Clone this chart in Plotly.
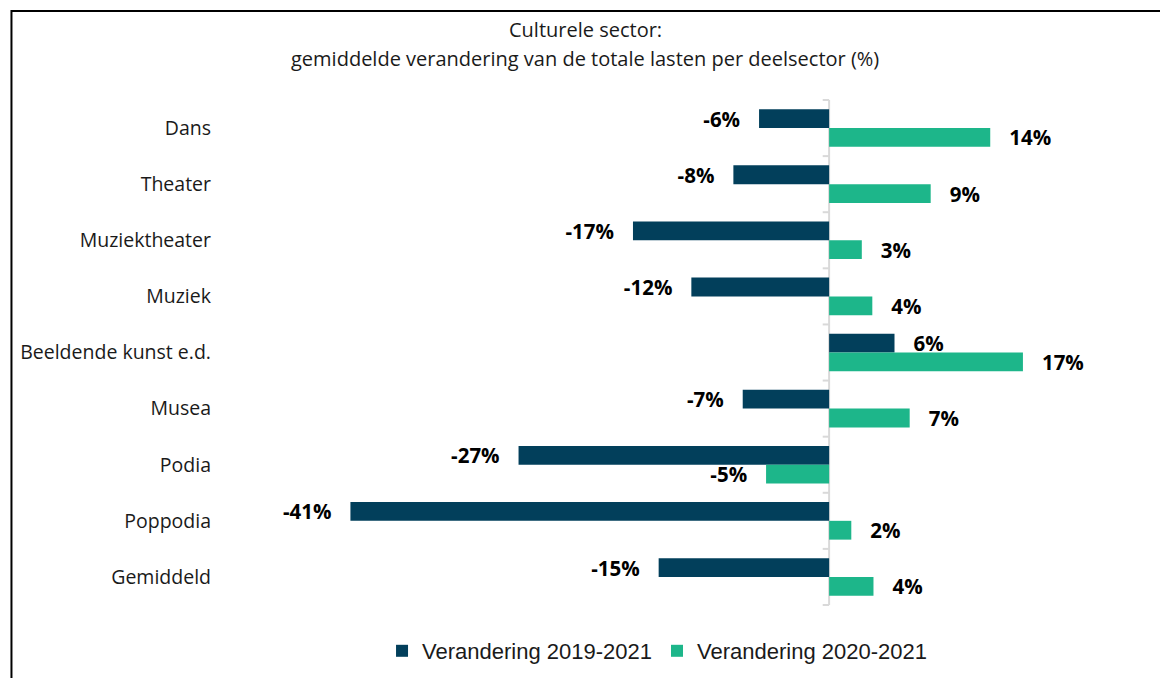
"""
Culturele sector: gemiddelde verandering van de totale lasten per deelsector
"""

import plotly.graph_objects as go

# categorieën en waarden (%)
categories = ["Dans", "Theater", "Muziektheater", "Muziek", "Beeldende kunst e.d.",
              "Musea", "Podia", "Poppodia", "Gemiddeld"]
change_2019_2021 = [-6.0, -8.2, -16.8, -11.8, 5.6, -7.4, -26.6, -41.0, -14.6]
change_2020_2021 = [13.8, 8.7, 2.8, 3.7, 16.6, 6.9, -5.4, 1.9, 3.8]
series_names = ["Verandering 2019-2021", "Verandering 2020-2021"]
title_lines = ["Culturele sector:",
               "gemiddelde verandering van de totale lasten per deelsector (%)"]

DARK = "#023F5B"
GREEN = "#1DB68A"
FONT = "Open Sans"
PAD = "\u00a0\u00a0\u00a0"

# afmetingen (pagina heeft 8px marge in de body)
W, H = 1160, 670
L, R, T, B = 212, 47, 91, 72
PW, PH = W - L - R, H - T - B


def make_labels(values):
    # label met wat ruimte tussen balk en tekst
    out = []
    for v in values:
        s = f"{round(v):.0f}%"
        out.append(s + PAD if v < 0 else PAD + s)
    return out


def py(px):
    # pixel (figuur) -> paper y
    return 1 + (T - px) / PH


def px_(x):
    return (x - L) / PW


fig = go.Figure()
for name, vals, col in [(series_names[0], change_2019_2021, DARK),
                        (series_names[1], change_2020_2021, GREEN)]:
    fig.add_trace(go.Bar(
        y=categories, x=vals, name=name, orientation="h",
        marker=dict(color=col, line=dict(width=0)),
        text=make_labels(vals), textposition="outside", cliponaxis=False,
        constraintext="none",
        textfont=dict(family=FONT, size=20.5, color="black", weight="bold"),
    ))

# verticale as op nul met streepjes op de categoriegrenzen
n = len(categories)
shapes = [dict(type="line", xref="x", yref="y", x0=0, x1=0, y0=-0.5, y1=n - 0.5,
               line=dict(color="#D9D9D9", width=2), layer="below")]
for i in range(n + 1):
    shapes.append(dict(type="line", xref="x", yref="y", x0=-0.55, x1=0,
                       y0=i - 0.5, y1=i - 0.5, line=dict(color="#D9D9D9", width=2)))
# kader rond de grafiek
shapes.append(dict(type="rect", xref="paper", yref="paper", x0=px_(1), x1=1.3,
                   y0=-0.4, y1=py(3), line=dict(color="black", width=2)))

annotations = []
for i, line in enumerate(title_lines):
    annotations.append(dict(text=line, xref="paper", yref="paper",
                            x=px_(576), y=py(22 + 28 * i), xanchor="center", yanchor="middle",
                            showarrow=False, font=dict(family=FONT, size=20, color="#1a1a1a")))

fig.update_layout(
    width=W, height=H,
    margin=dict(l=L, r=R, t=T, b=B),
    paper_bgcolor="white", plot_bgcolor="white",
    barmode="group", bargap=0.33, bargroupgap=0,
    font=dict(family=FONT, size=18, color="#1a1a1a"),
    xaxis=dict(range=[-52, 25], showgrid=False, zeroline=False, showticklabels=False,
               showline=False, fixedrange=True),
    yaxis=dict(autorange="reversed", showgrid=False, zeroline=False, showline=False,
               ticks="", ticklabelstandoff=10, tickfont=dict(family=FONT, size=19.5)),
    legend=dict(orientation="h", x=px_(648), xanchor="center",
                yref="container", y=1 - 643 / H, yanchor="middle",
                font=dict(family="Liberation Sans", size=22, color="#1a1a1a"),
                itemwidth=30, traceorder="normal"),
    shapes=shapes,
    annotations=annotations,
)

fig.write_html("out.html")
